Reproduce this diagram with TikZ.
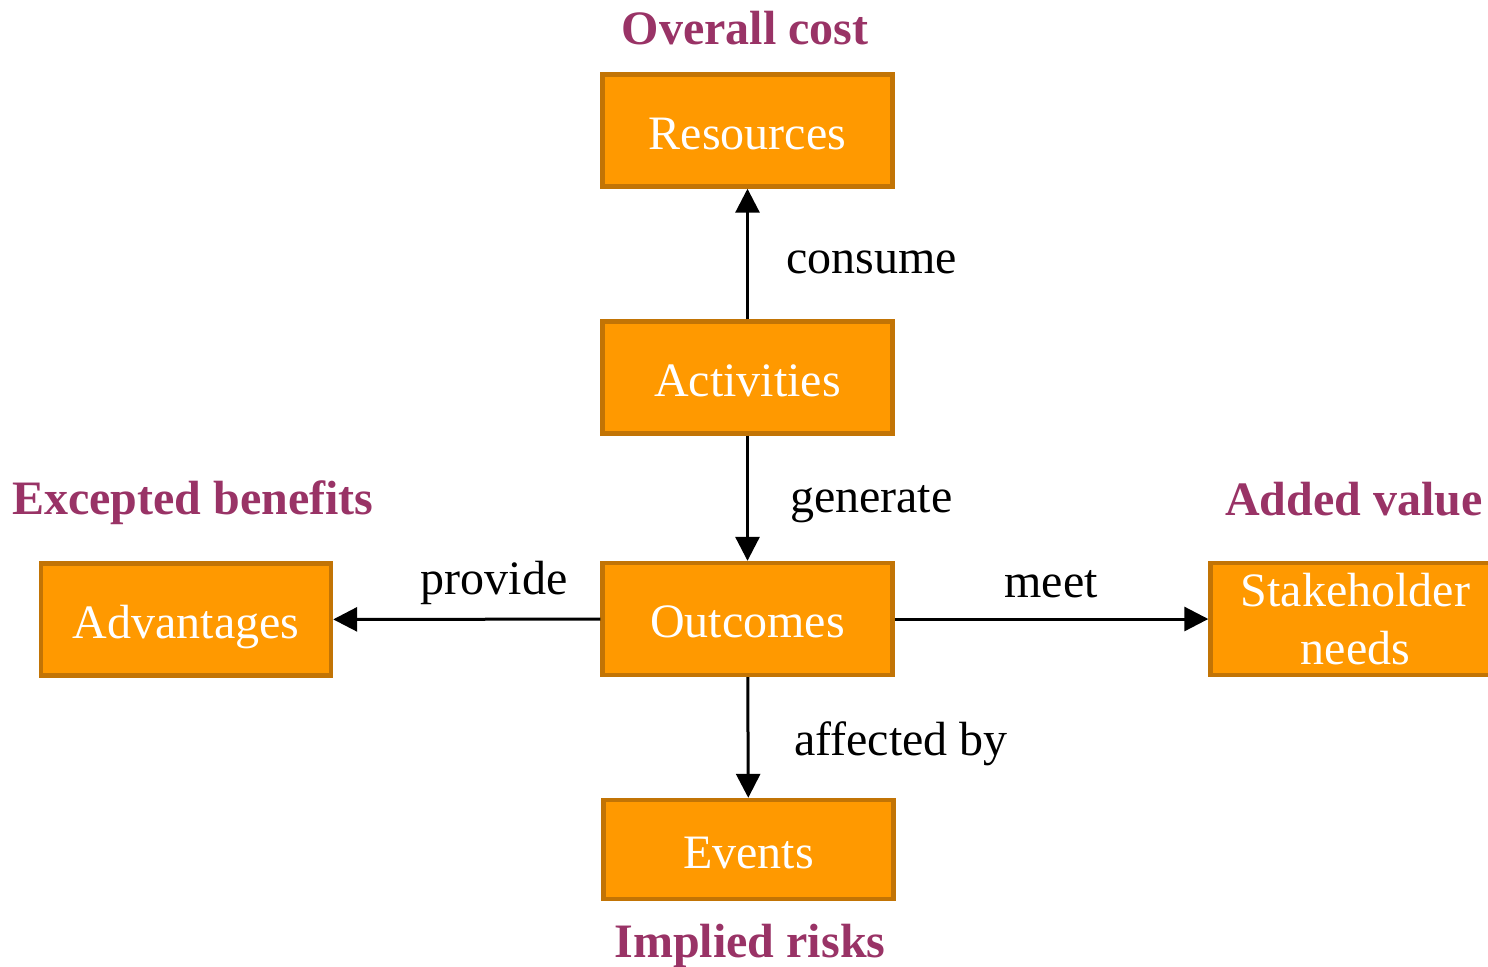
\documentclass[tikz,border=0pt]{standalone}
\usepackage{fontspec}
\setmainfont{Liberation Serif}
\usepackage{xcolor}
\usetikzlibrary{positioning,calc,arrows.meta}

\definecolor{boxfill}{HTML}{FF9900}
\definecolor{boxline}{HTML}{C27405}
\definecolor{costtext}{HTML}{993366}

\tikzset{
  block/.style={draw=boxline, fill=boxfill, line width=2.2pt, text=white,
    minimum width=145pt, minimum height=56pt, align=center,
    font=\fontsize{24}{29}\selectfont},
  oneline/.style={text height=18.8pt, text depth=0pt},
  flow/.style={line width=1.5pt, -{Triangle[length=12pt,width=12pt]}},
  verb/.style={font=\fontsize{24}{29}\selectfont},
  aim/.style={text=costtext, font=\fontsize{24}{29}\selectfont\bfseries}
}

\begin{document}
\begin{tikzpicture}[x=0.5pt, y=-0.5pt]
    \useasboundingbox (0,0) rectangle (1488,966);
    % Boxes
    \node[block, oneline] (res) at (747.5,130.5) {Resources};
    \node[block, oneline] (act) at (747.5,377.5) {Activities};
    \node[block, oneline] (out) at (747.5,619) {Outcomes};
    \node[block, oneline, minimum height=49.5pt] (evt) at (748.5,849.5) {Events};
    \node[block, oneline] (adv) at (186,619.5) {Advantages};
    \node[block] (stk) at (1355.5,619) {Stakeholder\\needs};

    % Headings
    \node[aim] (cost) at (745,28) {Overall cost};
    \node[aim] (bene) at (193,503) {Excepted benefits};
    \node[aim] (vall) at (1354,499) {Added value};
    \node[aim] (risk) at (750,946) {Implied risks};

    % Connectors
    \draw[flow] (act) -- (res);
    \draw[flow] (act) -- (out);
    \draw[flow] (out) -- (adv);
    \draw[flow] (out) -- (stk);
    \draw[flow] (out) -- (evt);

    % Verbs
    \node[verb, anchor=west] (cons) at (779,262) {consume};
    \node[verb, anchor=west] (gene) at (783,504) {generate};
    \node[verb] (prov) at (494,583) {provide};
    \node[verb] (meet) at (1051,584) {meet};
    \node[verb, anchor=west] (aff) at (787,744) {affected by};
\end{tikzpicture}
\end{document}
